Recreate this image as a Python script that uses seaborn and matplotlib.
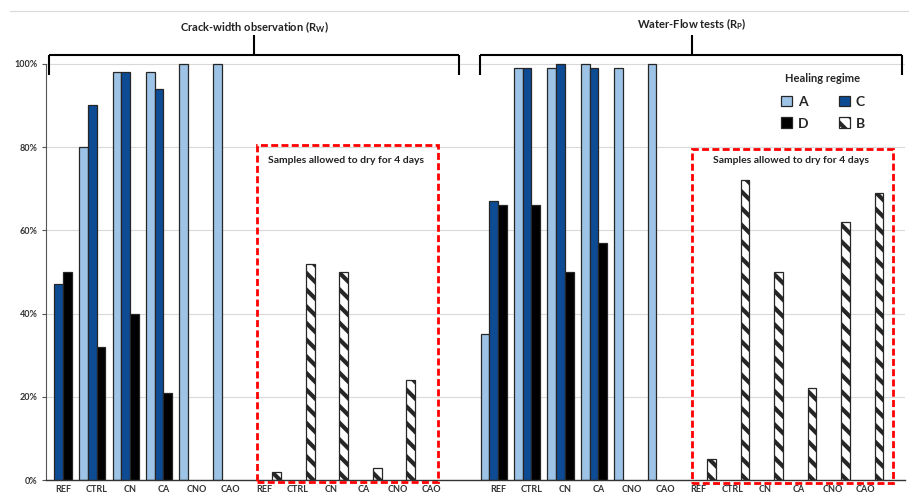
import matplotlib
matplotlib.use('Agg')
import matplotlib.pyplot as plt
from matplotlib.patches import Patch, Rectangle
import seaborn as sns
import pandas as pd

# Values (percent).
groups = ['REF', 'CTRL', 'CN', 'CA', 'CNO', 'CAO']
rw_A = [0, 80, 98, 98, 100, 100]
rw_C = [47, 90, 98, 94, 0, 0]
rw_D = [50, 32, 40, 21, 0, 0]
rw_B = [2, 52, 50, 3, 24, 0]
rp_A = [35, 99, 99, 100, 99, 100]
rp_C = [67, 99, 100, 99, 0, 0]
rp_D = [66, 66, 50, 57, 0, 0]
rp_B = [5, 72, 50, 22, 62, 69]

regimes = ['A', 'C', 'D', 'B']
colors = {'A': '#9DC3E6', 'C': '#0D4B94', 'D': '#000000', 'B': '#FFFFFF'}

# Slots: wet section, dry section, gap, wet section, dry section.
slots = ([f'w{i}' for i in range(6)] + [f'd{i}' for i in range(6)] + ['gap']
         + [f'W{i}' for i in range(6)] + [f'D{i}' for i in range(6)])

rows = []
for i in range(6):
    for reg, vals in (('A', rw_A), ('C', rw_C), ('D', rw_D)):
        if vals[i] > 0:
            rows.append((f'w{i}', reg, vals[i]))
    if rw_B[i] > 0:
        rows.append((f'd{i}', 'B', rw_B[i]))
    for reg, vals in (('A', rp_A), ('C', rp_C), ('D', rp_D)):
        if vals[i] > 0:
            rows.append((f'W{i}', reg, vals[i]))
    if rp_B[i] > 0:
        rows.append((f'D{i}', 'B', rp_B[i]))
df = pd.DataFrame(rows, columns=['slot', 'regime', 'value'])

sns.set_style('white')
plt.rcParams['font.family'] = ['Lato', 'DejaVu Sans']
plt.rcParams['hatch.linewidth'] = 3.0
plt.rcParams['mathtext.default'] = 'regular'

fig = plt.figure(figsize=(9.09, 4.96), dpi=100)
ax = fig.add_axes([45.7 / 909, 1 - 480 / 496, (905 - 45.7) / 909, (480 - 11) / 496])

sns.barplot(data=df, x='slot', y='value', hue='regime', order=slots,
            hue_order=regimes, palette=colors, saturation=1, width=1.04,
            edgecolor='#262626', linewidth=0.9, legend=False, ax=ax)

for p in ax.patches:
    fc = p.get_facecolor()
    if fc[0] > 0.99 and fc[1] > 0.99 and fc[2] > 0.99:
        p.set_hatch('\\\\')
        if hasattr(p, 'set_hatch_linewidth'):
            p.set_hatch_linewidth(3.0)

ax.set_xlim(-0.52, 25.17)
ax.set_ylim(0, 112.7)
ax.set_yticks([0, 20, 40, 60, 80, 100])
ax.set_yticklabels([f'{v}%' for v in [0, 20, 40, 60, 80, 100]])
ax.set_xticks(range(25))
ax.set_xticklabels(groups * 2 + [''] + groups * 2)
ax.set_xlabel('')
ax.set_ylabel('')
ax.tick_params(axis='x', length=0, pad=3.5, labelsize=6.5, labelcolor='#333333')
ax.tick_params(axis='y', length=3, width=0.8, pad=3, labelsize=6.5,
               labelcolor='#333333', color='#555555', left=True)
for lab in ax.get_xticklabels() + ax.get_yticklabels():
    lab.set_fontweight('bold')

ax.yaxis.grid(True, color='#D9D9D9', linewidth=0.8)
ax.set_axisbelow(True)
for side in ['top', 'right']:
    ax.spines[side].set_visible(False)
ax.spines['left'].set_bounds(0, 100)
ax.spines['left'].set_color('#555555')
ax.spines['left'].set_linewidth(0.8)
ax.spines['bottom'].set_color('#333333')
ax.spines['bottom'].set_linewidth(1.0)

# top border line of the chart area
fig.add_artist(plt.Line2D([10 / 909, 1], [1 - 11 / 496, 1 - 11 / 496],
                          color='#D9D9D9', linewidth=0.8))

# Brackets with titles
def bracket(x0, x1, xm, title, ty):
    kw = dict(color='black', linewidth=1.5, clip_on=False, solid_capstyle='butt')
    ax.plot([x0, x1], [102.2, 102.2], **kw)
    ax.plot([x0, x0], [102.2, 97.4], **kw)
    ax.plot([x1, x1], [102.2, 97.4], **kw)
    ax.plot([xm, xm], [102.2, 107.0], **kw)
    ax.text(xm, ty, title, ha='center', va='center', fontsize=8,
            fontweight='bold', color='#222222', clip_on=False)

bracket(-0.42, 11.84, 5.71, 'Crack-width observation (R$_{W}$)', 108.9)
bracket(12.47, 25.08, 18.8, 'Water-Flow tests (R$_{P}$)', 109.6)

# Red dashed boxes for dried samples
for x0, x1, y1, yb in ((5.79, 11.22, 80.5, -0.4), (18.8, 24.82, 79.6, -0.8)):
    ax.add_patch(Rectangle((x0, yb), x1 - x0, y1 - yb, fill=False,
                           edgecolor='#FF0000', linewidth=2.0,
                           linestyle=(0, (2.5, 1.2)), clip_on=False, zorder=5))
    ax.text((x0 + x1) / 2 - 0.05, 76.8, 'Samples allowed to dry for 4 days',
            ha='center', va='center', fontsize=7.5, fontweight='bold',
            color='#222222')

handles = [Patch(facecolor=colors['A'], edgecolor='#262626', linewidth=0.9),
           Patch(facecolor=colors['D'], edgecolor='#262626', linewidth=0.9),
           Patch(facecolor=colors['C'], edgecolor='#262626', linewidth=0.9),
           Patch(facecolor='white', edgecolor='#262626', linewidth=0.9, hatch='\\\\')]
leg = fig.legend(handles, ['A', 'D', 'C', 'B'], ncol=2, loc='upper center',
                 bbox_to_anchor=(823 / 909, 1 - 61 / 496), frameon=False,
                 title='Healing regime', handlelength=0.8, handleheight=0.8,
                 handletextpad=0.4, columnspacing=2.2, labelspacing=0.7,
                 prop={'weight': 'bold', 'size': 10},
                 title_fontproperties={'weight': 'bold', 'size': 8})
leg._legend_box.sep = 8

fig.savefig('out.png', dpi=100)
